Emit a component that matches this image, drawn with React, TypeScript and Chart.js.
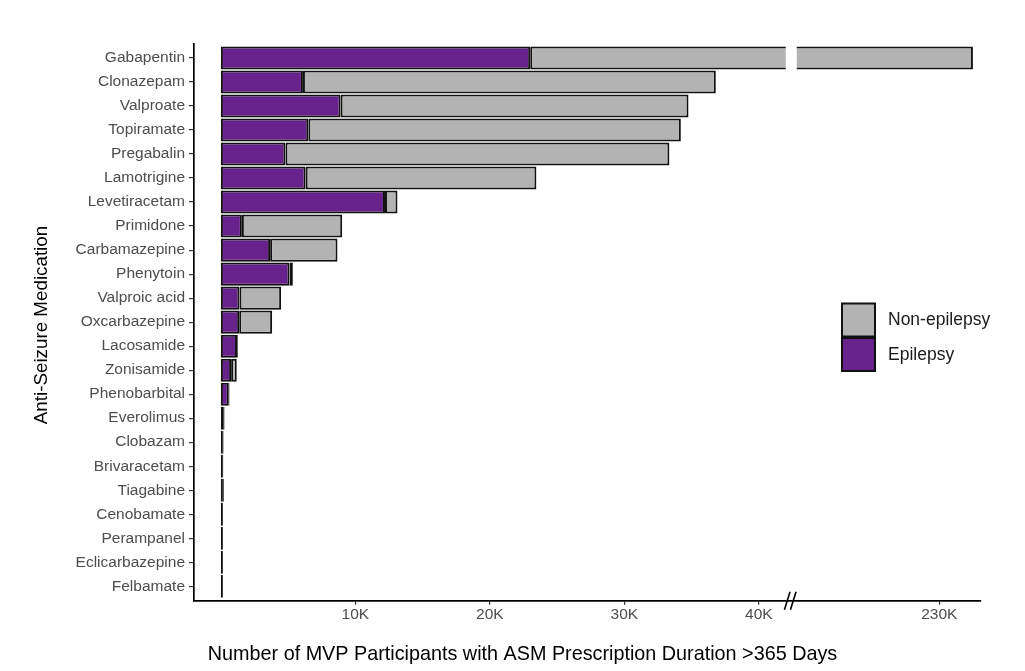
import React, { useEffect, useRef } from 'react';
import { Chart, registerables, CategoryScale, LinearScale } from 'chart.js';

const medications = [
  'Gabapentin', 'Clonazepam', 'Valproate', 'Topiramate', 'Pregabalin', 'Lamotrigine',
  'Levetiracetam', 'Primidone', 'Carbamazepine', 'Phenytoin', 'Valproic acid', 'Oxcarbazepine',
  'Lacosamide', 'Zonisamide', 'Phenobarbital', 'Everolimus', 'Clobazam', 'Brivaracetam',
  'Tiagabine', 'Cenobamate', 'Perampanel', 'Eclicarbazepine', 'Felbamate',
];
const epilepsy = [
  23000, 6100, 8900, 6500, 4800, 6300, 12200, 1560, 3660, 5100, 1380, 1360,
  1200, 760, 590, 220, 120, 120, 80, 40, 30, 30, 20,
];
const nonEpilepsy = [
  209500, 30700, 25870, 27700, 28550, 17160, 930, 7460, 5010, 250, 3100, 2450,
  60, 420, 50, 50, 50, 30, 70, 10, 10, 10, 10,
];
const xTickValues = [10000, 20000, 30000, 40000, 230000];
const legendLabels = ['Non-epilepsy', 'Epilepsy'];
const xTitle = 'Number of MVP Participants with ASM Prescription Duration >365 Days';
const yTitle = 'Anti-Seizure Medication';

const X_MIN = -2000;
const BREAK_START = 42000;
const BREAK_END = 219400;
const X_MAX = 233100;
const GAP_PX = 11;

const PURPLE = '#68228B';
const GRAY = '#B3B3B3';
const EDGE = '#111111';
const FONT = "'Liberation Sans', Arial, sans-serif";

class BrokenLinearScale extends LinearScale {
  static id = 'brokenLinear';
  buildTicks() {
    return xTickValues.map((v) => ({ value: v }));
  }
  _ppu() {
    const units = (BREAK_START - X_MIN) + (X_MAX - BREAK_END);
    return (this.width - GAP_PX) / units;
  }
  getPixelForValue(value: any) {
    const v = typeof value === 'number' ? value : Number(value);
    const ppu = this._ppu();
    const leftPx = (BREAK_START - X_MIN) * ppu;
    let px: number;
    if (v <= BREAK_START) px = (v - X_MIN) * ppu;
    else if (v >= BREAK_END) px = leftPx + GAP_PX + (v - BREAK_END) * ppu;
    else px = leftPx + (GAP_PX * (v - BREAK_START)) / (BREAK_END - BREAK_START);
    return this.left + px;
  }
  getValueForPixel(pixel: number) {
    const ppu = this._ppu();
    const leftPx = (BREAK_START - X_MIN) * ppu;
    const px = pixel - this.left;
    if (px <= leftPx) return X_MIN + px / ppu;
    if (px >= leftPx + GAP_PX) return BREAK_END + (px - leftPx - GAP_PX) / ppu;
    return BREAK_START + ((px - leftPx) / GAP_PX) * (BREAK_END - BREAK_START);
  }
}

class PaddedCategoryScale extends CategoryScale {
  static id = 'paddedCategory';
  buildTicks() {
    const ticks = super.buildTicks();
    const self = this as any;
    if (typeof self._startValue === 'number') {
      self._startValue -= 0.1;
      self._valueRange += 0.2;
    }
    return ticks;
  }
}

Chart.register(...registerables, BrokenLinearScale, PaddedCategoryScale);

const breakPlugin = {
  id: 'axisBreak',
  afterDatasetsDraw(chart: any) {
    const x = chart.scales.x;
    const { top, bottom } = chart.chartArea;
    const gl = x.getPixelForValue(BREAK_START);
    const gr = x.getPixelForValue(BREAK_END);
    const ctx = chart.ctx;
    ctx.save();
    ctx.fillStyle = '#ffffff';
    ctx.fillRect(gl, top - 3, gr - gl, bottom - top + 3 - 1.2);
    ctx.restore();
  },
  afterDraw(chart: any) {
    const x = chart.scales.x;
    const ctx = chart.ctx;
    const gl = x.getPixelForValue(BREAK_START);
    const ay = chart.chartArea.bottom;
    ctx.save();
    ctx.strokeStyle = '#000000';
    ctx.lineWidth = 1.6;
    for (const cx of [gl + 1.5, gl + 7.5]) {
      ctx.beginPath();
      ctx.moveTo(cx - 2.8, ay + 9);
      ctx.lineTo(cx + 2.8, ay - 9);
      ctx.stroke();
    }
    ctx.restore();
  },
};

const titlesPlugin = {
  id: 'axisTitles',
  afterDraw(chart: any) {
    const ctx = chart.ctx;
    ctx.save();
    ctx.fillStyle = '#000000';
    ctx.textAlign = 'center';
    ctx.textBaseline = 'middle';
    ctx.font = `19.8px ${FONT}`;
    ctx.fillText(xTitle, 522.5, 655);
    ctx.translate(42, 325);
    ctx.rotate(-Math.PI / 2);
    ctx.font = `18.8px ${FONT}`;
    ctx.fillText(yTitle, 0, 0);
    ctx.restore();
  },
};

const legendPlugin = {
  id: 'insideLegend',
  afterDraw(chart: any) {
    const ctx = chart.ctx;
    const boxX = 842;
    const boxS = 33;
    const tops = [303.5, 338];
    const fills = [GRAY, PURPLE];
    ctx.save();
    tops.forEach((t, i) => {
      ctx.fillStyle = fills[i];
      ctx.fillRect(boxX, t, boxS, boxS);
      ctx.strokeStyle = EDGE;
      ctx.lineWidth = 2;
      ctx.strokeRect(boxX, t, boxS, boxS);
      ctx.fillStyle = '#1a1a1a';
      ctx.font = `17.5px ${FONT}`;
      ctx.textAlign = 'left';
      ctx.textBaseline = 'middle';
      ctx.fillText(legendLabels[i], 888, t + boxS / 2 + 0.5);
    });
    ctx.restore();
  },
};

export default function App() {
  const canvasRef = useRef<HTMLCanvasElement | null>(null);

  useEffect(() => {
    if (!canvasRef.current) return;
    const chart = new Chart(canvasRef.current, {
      type: 'bar',
      data: {
        labels: medications,
        datasets: [
          {
            label: 'Epilepsy',
            data: epilepsy,
            backgroundColor: PURPLE,
            borderColor: EDGE,
            borderWidth: 2,
            borderSkipped: false,
            minBarLength: 2,
            barPercentage: 0.96,
            categoryPercentage: 1,
          },
          {
            label: 'Non-epilepsy',
            data: nonEpilepsy,
            backgroundColor: GRAY,
            borderColor: EDGE,
            borderWidth: 2,
            borderSkipped: false,
            barPercentage: 0.96,
            categoryPercentage: 1,
          },
        ],
      },
      options: {
        indexAxis: 'y',
        animation: false,
        responsive: true,
        maintainAspectRatio: false,
        layout: { padding: { top: 43.6, right: 44, left: 0, bottom: 0 } },
        plugins: {
          legend: { display: false },
          tooltip: { enabled: true },
        },
        scales: {
          x: {
            type: 'brokenLinear' as any,
            stacked: true,
            min: X_MIN,
            max: X_MAX,
            grid: {
              display: true,
              drawOnChartArea: false,
              drawTicks: true,
              tickLength: 4,
              color: '#333333',
              lineWidth: 1.2,
            },
            border: { display: true, color: '#000000', width: 1.7 },
            ticks: {
              autoSkip: false,
              maxRotation: 0,
              padding: 1,
              color: '#4D4D4D',
              font: { family: FONT, size: 15.5 },
              callback: (v: any) => `${Number(v) / 1000}K`,
            },
            title: { display: false },
            afterFit: (scale: any) => {
              scale.height = 671 - 600.7;
            },
          } as any,
          y: {
            type: 'paddedCategory' as any,
            stacked: true,
            offset: true,
            grid: {
              display: true,
              offset: false,
              drawOnChartArea: false,
              drawTicks: true,
              tickLength: 5,
              color: '#333333',
              lineWidth: 1.2,
            },
            border: { display: true, color: '#000000', width: 1.7 },
            ticks: {
              autoSkip: false,
              padding: 4,
              color: '#4D4D4D',
              font: { family: FONT, size: 15.5 },
            },
            title: { display: false },
            afterFit: (scale: any) => {
              scale.width = 194;
            },
          } as any,
        },
      },
      plugins: [breakPlugin, legendPlugin, titlesPlugin],
    });
    return () => chart.destroy();
  }, []);

  return (
    <div style={{ position: 'fixed', left: 0, top: 0, width: 1025, height: 671, background: '#ffffff' }}>
      <canvas ref={canvasRef} />
    </div>
  );
}
